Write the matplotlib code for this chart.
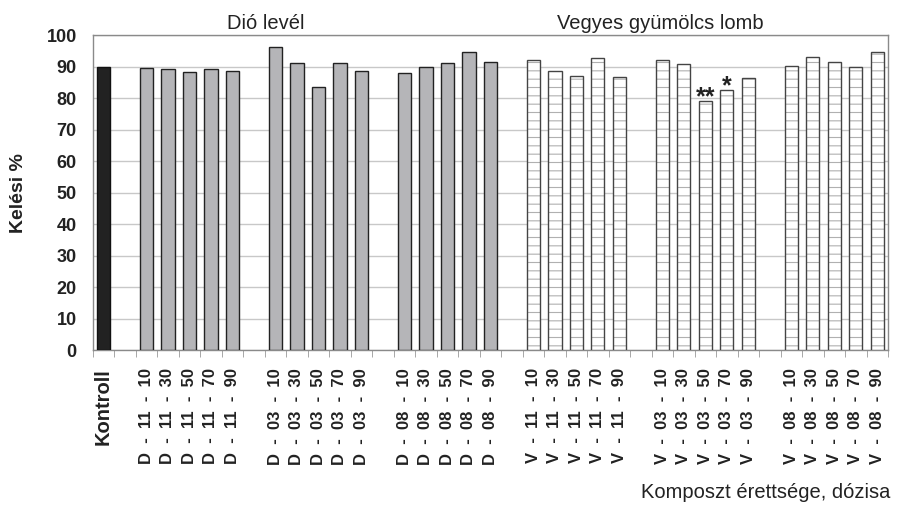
import numpy as np
import matplotlib.pyplot as plt

plt.rcParams['font.family'] = ['Liberation Sans', 'DejaVu Sans']

# Adatok (leolvasva az ábráról)
kontroll = [90.0]
d_labels = ['D  -  11  -  10', 'D  -  11  -  30', 'D  -  11  -  50', 'D  -  11  -  70', 'D  -  11  -  90',
            'D  -  03  -  10', 'D  -  03  -  30', 'D  -  03  -  50', 'D  -  03  -  70', 'D  -  03  -  90',
            'D  -  08  -  10', 'D  -  08  -  30', 'D  -  08  -  50', 'D  -  08  -  70', 'D  -  08  -  90']
d_values = [89.6, 89.3, 88.2, 89.3, 88.5,
            96.1, 91.2, 83.6, 91.1, 88.5,
            87.8, 90.0, 91.1, 94.6, 91.4]
v_labels = ['V  -  11  -  10', 'V  -  11  -  30', 'V  -  11  -  50', 'V  -  11  -  70', 'V  -  11  -  90',
            'V  -  03  -  10', 'V  -  03  -  30', 'V  -  03  -  50', 'V  -  03  -  70', 'V  -  03  -  90',
            'V  -  08  -  10', 'V  -  08  -  30', 'V  -  08  -  50', 'V  -  08  -  70', 'V  -  08  -  90']
v_values = [92.2, 88.5, 87.0, 92.7, 86.6,
            92.2, 90.7, 79.0, 82.6, 86.2,
            90.1, 93.0, 91.5, 89.7, 94.6]
signif = {7: '**', 8: '*'}   # index a v_values-ban

# Pozíciók: Kontroll, üres hely, majd 5-ös csoportok üres helyekkel
def group_pos(start, n_groups):
    pos = []
    for g in range(n_groups):
        pos += list(range(start + g * 6, start + g * 6 + 5))
    return pos

x_k = [0]
x_d = group_pos(2, 3)
x_v = group_pos(20, 3)
n_slots = 37

fig = plt.figure(figsize=(8.98, 5.11), dpi=100)
ax = fig.add_axes([0.1032, 0.315, 0.8857, 0.6165])

bw = 0.62
ax.bar(x_k, kontroll, width=bw, color='#222222', edgecolor='#111111', linewidth=1.0, zorder=3)
ax.bar(x_d, d_values, width=bw, color='#b5b5b8', edgecolor='#222222', linewidth=1.0, zorder=3)
plt.rcParams['hatch.linewidth'] = 0.8
ax.bar(x_v, v_values, width=bw, color='white', edgecolor='#b0b0b0', hatch='--',
       linewidth=0, zorder=3)
ax.bar(x_v, v_values, width=bw, color='none', edgecolor='#444444', linewidth=1.0, zorder=4)

for i, s in signif.items():
    ax.text(x_v[i], v_values[i] - 1.1, s, ha='center', va='baseline',
            fontsize=18, fontweight='bold', color='#222222')

ax.set_xlim(-0.5, n_slots - 0.5)
ax.set_ylim(0, 100)
ax.set_yticks(np.arange(0, 101, 10))
ax.yaxis.grid(True, color='#c8c8c8', linewidth=1.0, zorder=0)
ax.set_axisbelow(True)

labels = [''] * n_slots
labels[0] = 'Kontroll'
for x, l in zip(x_d, d_labels):
    labels[x] = l
for x, l in zip(x_v, v_labels):
    labels[x] = l
ax.set_xticks(range(n_slots))
ax.set_xticklabels(labels, rotation=90, fontsize=12, fontweight='bold', color='#222222')
ax.get_xticklabels()[0].set_fontsize(14.5)
ax.tick_params(axis='x', length=0, pad=13)
ax.set_xticks(np.arange(-0.5, n_slots, 1), minor=True)
ax.tick_params(axis='x', which='minor', length=5, color='#999999')
ax.tick_params(axis='y', length=0, pad=11.5, labelsize=13, labelcolor='#222222')
for t in ax.get_yticklabels():
    t.set_fontweight('bold')
for sp in ax.spines.values():
    sp.set_color('#8a8a8a')
    sp.set_linewidth(1.0)

ax.set_ylabel('Kelési %', fontsize=14, fontweight='bold', color='#222222')
ax.yaxis.set_label_coords(-0.083, 0.497)
ax.text(7.56, 101.8, 'Dió levél', ha='center', va='baseline', fontsize=14.5, color='#222222')
ax.text(25.9, 101.8, 'Vegyes gyümölcs lomb', ha='center', va='baseline', fontsize=14.5,
        color='#222222')
fig.text(0.991, 0.026, 'Komposzt érettsége, dózisa', ha='right', va='baseline',
         fontsize=14.5, color='#222222')

fig.savefig('out.png', dpi=100)
